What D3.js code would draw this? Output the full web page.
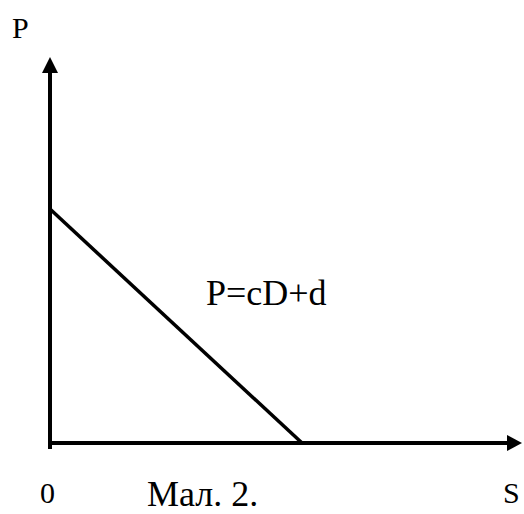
<!DOCTYPE html>
<html>
<head>
<meta charset="utf-8">
<script src="https://cdn.jsdelivr.net/npm/d3@7"></script>
</head>
<body style="margin:0">
<svg width="524" height="514"></svg>
<script>
  // demand line P = cD + d, as two points (S, P)
  const linePoints = [ { s: 0, p: 60.6 }, { s: 53.4, p: 0 } ];
  const axisLabels = [ 'P', 'S', '0' ];
  const formula = 'P=cD+d';
  const caption = 'Мал. 2.';

  let svg = d3.select('svg');
  let viewport = svg.append('g');

  let x = d3.scaleLinear()
    .domain([0, 100])
    .range([50, 522]);

  let y = d3.scaleLinear()
    .domain([0, 100])
    .range([443, 57]);

  // axes
  viewport.append('line')
    .attr('x1', x(0)).attr('y1', y(0) + 6)
    .attr('x2', x(0)).attr('y2', y(100) + 12)
    .attr('stroke', '#000').attr('stroke-width', 4);

  viewport.append('line')
    .attr('x1', x(0) - 2).attr('y1', y(0))
    .attr('x2', x(100) - 12).attr('y2', y(0))
    .attr('stroke', '#000').attr('stroke-width', 4);

  // arrow heads
  viewport.append('path')
    .attr('d', `M${x(0)},${y(100)} L${x(0) - 8},${y(100) + 16} L${x(0) + 8},${y(100) + 16} Z`)
    .attr('fill', '#000');

  viewport.append('path')
    .attr('d', `M${x(100)},${y(0)} L${x(100) - 15},${y(0) - 8} L${x(100) - 15},${y(0) + 8} Z`)
    .attr('fill', '#000');

  // the line
  viewport.append('path')
    .datum(linePoints)
    .attr('fill', 'none')
    .attr('stroke', '#000')
    .attr('stroke-width', 3.5)
    .attr('d', d3.line().x(d => x(d.s)).y(d => y(d.p)));

  // labels
  let labels = [
    { t: axisLabels[0], x: 12, y: 38, size: 30 },
    { t: axisLabels[1], x: 503, y: 503, size: 30 },
    { t: axisLabels[2], x: 40, y: 503, size: 30 },
    { t: formula, x: 206, y: 305, size: 36 },
    { t: caption, x: 147, y: 506, size: 36 }
  ];

  viewport.selectAll('text').data(labels).enter().append('text')
    .attr('x', d => d.x)
    .attr('y', d => d.y)
    .attr('font-size', d => d.size)
    .style('font-family', "'Liberation Serif'")
    .text(d => d.t);
</script>
</body>
</html>
